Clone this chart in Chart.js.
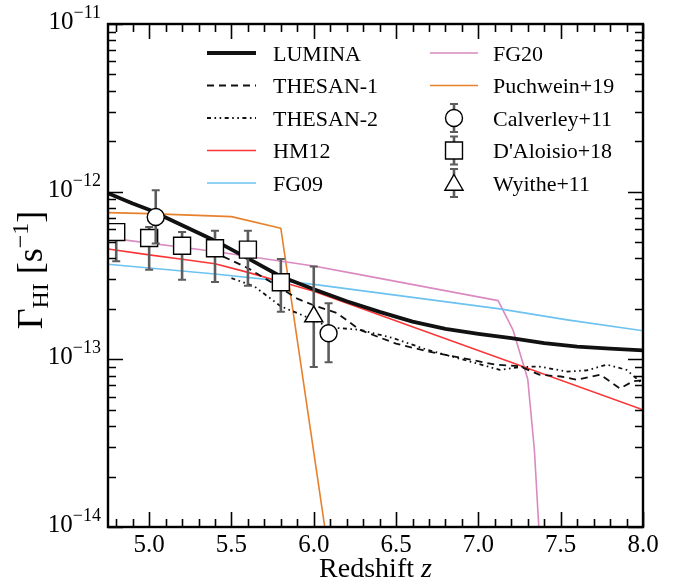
<!DOCTYPE html>
<html>
<head>
<meta charset="utf-8">
<script src="https://cdn.jsdelivr.net/npm/chart.js@4.4.1/dist/chart.umd.min.js"></script>
<style>
  html, body { margin: 0; padding: 0; background: #ffffff; }
  #c { display: block; }
</style>
</head>
<body>
<canvas id="c" width="676" height="581"></canvas>
<script>
// ---- photoionisation rate Gamma_HI [s^-1] versus redshift ----

// LUMINA
const luminaZ = [4.75, 4.9, 5.0, 5.2, 5.4, 5.6, 5.8, 6.0, 6.2, 6.4, 6.6, 6.8, 7.0, 7.2, 7.4, 7.6, 7.8, 8.0];
const luminaGamma = [9.8e-13, 8.5e-13, 7.8e-13, 6.3e-13, 5.1e-13, 4.0e-13, 3.12e-13, 2.62e-13, 2.22e-13, 1.92e-13, 1.68e-13, 1.52e-13, 1.42e-13, 1.34e-13, 1.25e-13, 1.19e-13, 1.16e-13, 1.13e-13];

// THESAN-1
const thesan1Z = [5.45, 5.6, 5.75, 5.9, 6.0, 6.14, 6.28, 6.4, 6.5, 6.7, 6.9, 7.1, 7.25, 7.37, 7.5, 7.6, 7.74, 7.86, 7.94, 8.0];
const thesan1Gamma = [4.1e-13, 3.5e-13, 2.85e-13, 2.3e-13, 2.1e-13, 1.89e-13, 1.5e-13, 1.35e-13, 1.24e-13, 1.11e-13, 1.02e-13, 9.3e-14, 9.1e-14, 8.1e-14, 7.9e-14, 7.55e-14, 8.1e-14, 6.7e-14, 7.4e-14, 7.5e-14];

// THESAN-2
const thesan2Z = [5.5, 5.64, 5.8, 5.95, 6.1, 6.28, 6.48, 6.69, 6.95, 7.13, 7.25, 7.37, 7.54, 7.66, 7.78, 7.9, 7.98, 8.0];
const thesan2Gamma = [3.05e-13, 2.72e-13, 2.07e-13, 1.8e-13, 1.55e-13, 1.5e-13, 1.34e-13, 1.14e-13, 9.7e-14, 8.65e-14, 9.0e-14, 9.06e-14, 8.45e-14, 8.6e-14, 9.3e-14, 8.65e-14, 7.4e-14, 7.6e-14];

// UV background models
const hm12Z = [4.75, 5.0, 5.2, 5.4, 5.6, 5.8, 6.0, 8.0];
const hm12Gamma = [4.55e-13, 4.2e-13, 3.95e-13, 3.72e-13, 3.3e-13, 2.9e-13, 2.55e-13, 5.0e-14];

const fg09Z = [4.75, 5.4, 6.0, 7.13, 7.54, 8.0];
const fg09Gamma = [3.69e-13, 3.23e-13, 2.8e-13, 2.0e-13, 1.72e-13, 1.48e-13];

const fg20Z = [4.75, 5.4, 6.0, 6.28, 7.12, 7.21, 7.3, 7.34, 7.38];
const fg20Gamma = [5.3e-13, 4.4e-13, 3.6e-13, 3.2e-13, 2.24e-13, 1.5e-13, 7.6e-14, 2.9e-14, 6e-15];

const puchweinZ = [4.75, 5.0, 5.5, 5.8, 6.1];
const puchweinGamma = [7.5e-13, 7.4e-13, 7.1e-13, 6.05e-13, 6e-15];

// Observational constraints (value, upper, lower)
const calverleyZ = [5.04, 6.09];
const calverleyGamma = [7.06e-13, 1.43e-13];
const calverleyHi = [1.02e-12, 2.16e-13];
const calverleyLo = [4.9e-13, 9.6e-14];

const daloisioZ = [4.8, 5.0, 5.2, 5.4, 5.6, 5.8];
const daloisioGamma = [5.74e-13, 5.29e-13, 4.76e-13, 4.6e-13, 4.51e-13, 2.88e-13];
const daloisioHi = [6.3e-13, 6.15e-13, 5.74e-13, 5.85e-13, 5.85e-13, 3.96e-13];
const daloisioLo = [3.84e-13, 3.42e-13, 2.98e-13, 2.89e-13, 2.75e-13, 1.92e-13];

const wyitheZ = [6.0];
const wyitheGamma = [1.8e-13];
const wyitheHi = [3.58e-13];
const wyitheLo = [9.0e-14];

// Axis ticks
const xMajorTicks = [5.0, 5.5, 6.0, 6.5, 7.0, 7.5, 8.0];
const xTickLabels = ['5.0', '5.5', '6.0', '6.5', '7.0', '7.5', '8.0'];
const xMinorTicks = [4.8, 4.9, 5.1, 5.2, 5.3, 5.4, 5.6, 5.7, 5.8, 5.9, 6.1, 6.2, 6.3, 6.4,
                     6.6, 6.7, 6.8, 6.9, 7.1, 7.2, 7.3, 7.4, 7.6, 7.7, 7.8, 7.9];
const yDecadeExponents = [-14, -13, -12, -11];
const yMinorMantissas = [2, 3, 4, 5, 6, 7, 8, 9];

const serif = '"Liberation Serif", "Times New Roman", Times, serif';

function pairs(xs, ys) { return xs.map((x, i) => ({ x: x, y: ys[i] })); }

function lineSet(label, xs, ys, color, width, dash) {
  return {
    label: label,
    data: pairs(xs, ys),
    borderColor: color,
    backgroundColor: color,
    borderWidth: width,
    borderDash: dash || [],
    borderJoinStyle: 'round',
    pointRadius: 0,
    pointHoverRadius: 0,
    fill: false,
    tension: 0,
    order: 1
  };
}

function obsSet(label, xs, ys, hi, lo, style, radius) {
  return {
    label: label,
    data: pairs(xs, ys),
    errHi: hi,
    errLo: lo,
    showLine: false,
    pointStyle: style,
    pointRadius: radius,
    pointHoverRadius: radius,
    pointBackgroundColor: '#ffffff',
    pointBorderColor: '#000000',
    pointBorderWidth: 1.4,
    borderColor: '#000000',
    backgroundColor: '#ffffff',
    clip: false,
    order: 0
  };
}

const datasets = [
  lineSet('LUMINA', luminaZ, luminaGamma, '#111111', 3.8),
  lineSet('THESAN-1', thesan1Z, thesan1Gamma, '#111111', 1.8, [7, 5]),
  lineSet('THESAN-2', thesan2Z, thesan2Gamma, '#111111', 1.8, [4, 3.5, 1.6, 3.5, 1.6, 3.5]),
  lineSet('HM12', hm12Z, hm12Gamma, '#fb3535', 1.6),
  lineSet('FG09', fg09Z, fg09Gamma, '#6cc2f0', 1.6),
  lineSet('FG20', fg20Z, fg20Gamma, '#d98ac0', 1.6),
  lineSet('Puchwein+19', puchweinZ, puchweinGamma, '#e8802c', 1.6),
  obsSet('Calverley+11', calverleyZ, calverleyGamma, calverleyHi, calverleyLo, 'circle', 8.5),
  obsSet("D'Aloisio+18", daloisioZ, daloisioGamma, daloisioHi, daloisioLo, 'rect', 12),
  obsSet('Wyithe+11', wyitheZ, wyitheGamma, wyitheHi, wyitheLo, 'triangle', 10.5)
];

const errColor = '#5c5c5c';

function drawErrorBar(ctx, x, yTop, yBot) {
  ctx.save();
  ctx.strokeStyle = errColor;
  ctx.lineWidth = 2.6;
  ctx.beginPath();
  ctx.moveTo(x, yTop);
  ctx.lineTo(x, yBot);
  ctx.stroke();
  ctx.lineWidth = 2;
  ctx.beginPath();
  ctx.moveTo(x - 4, yTop); ctx.lineTo(x + 4, yTop);
  ctx.moveTo(x - 4, yBot); ctx.lineTo(x + 4, yBot);
  ctx.stroke();
  ctx.restore();
}

function drawMarker(ctx, style, r, x, y) {
  ctx.save();
  ctx.fillStyle = '#ffffff';
  ctx.strokeStyle = '#000000';
  ctx.lineWidth = 1.4;
  ctx.beginPath();
  if (style === 'circle') {
    ctx.arc(x, y, r, 0, Math.PI * 2);
  } else if (style === 'rect') {
    const s = r * Math.SQRT1_2;
    ctx.rect(x - s, y - s, 2 * s, 2 * s);
  } else {
    ctx.moveTo(x, y - r);
    ctx.lineTo(x + r * Math.sin(Math.PI / 3), y + r / 2);
    ctx.lineTo(x - r * Math.sin(Math.PI / 3), y + r / 2);
    ctx.closePath();
  }
  ctx.fill();
  ctx.stroke();
  ctx.restore();
}

// error bars are drawn just before the markers of the same dataset
const errorBarPlugin = {
  id: 'errorBars',
  beforeDatasetDraw(chart, args) {
    const ds = chart.data.datasets[args.index];
    if (!ds.errHi) return;
    const xs = chart.scales.x, ys = chart.scales.y;
    const ctx = chart.ctx;
    ds.data.forEach((p, i) => {
      const px = xs.getPixelForValue(p.x);
      drawErrorBar(ctx, px, ys.getPixelForValue(ds.errHi[i]), ys.getPixelForValue(ds.errLo[i]));
    });
  }
};

// two-column legend inside the plotting area
const legendColumns = [
  { lineX0: 207, lineX1: 256, textX: 273, items: [0, 1, 2, 3, 4] },
  { lineX0: 430, lineX1: 478, textX: 493, items: [5, 6, 7, 8, 9] }
];
const legendRowY = [53, 85.5, 118, 150.5, 183];

const legendPlugin = {
  id: 'twoColumnLegend',
  afterDatasetsDraw(chart) {
    const ctx = chart.ctx;
    ctx.save();
    legendColumns.forEach(col => {
      col.items.forEach((idx, row) => {
        const ds = chart.data.datasets[idx];
        const y = legendRowY[row];
        if (ds.errHi) {
          const cx = (col.lineX0 + col.lineX1) / 2;
          drawErrorBar(ctx, cx, y - 14, y + 14);
          drawMarker(ctx, ds.pointStyle, ds.pointRadius, cx, ds.pointStyle === 'triangle' ? y + 2 : y);
        } else {
          ctx.save();
          ctx.strokeStyle = ds.borderColor;
          ctx.lineWidth = ds.borderWidth;
          ctx.setLineDash(ds.borderDash);
          ctx.beginPath();
          ctx.moveTo(col.lineX0, y);
          ctx.lineTo(col.lineX1, y);
          ctx.stroke();
          ctx.restore();
        }
        ctx.fillStyle = '#000000';
        ctx.font = '22px ' + serif;
        ctx.textAlign = 'left';
        ctx.textBaseline = 'alphabetic';
        ctx.fillText(ds.label, col.textX, y + 7.5);
      });
    });
    ctx.restore();
  }
};

// frame, inward ticks on all four sides, tick labels and axis titles
const axesPlugin = {
  id: 'frameAndTicks',
  afterDraw(chart) {
    const ctx = chart.ctx;
    const a = chart.chartArea;
    const xs = chart.scales.x, ys = chart.scales.y;
    ctx.save();
    ctx.strokeStyle = '#000000';

    // ticks
    ctx.lineWidth = 1.6;
    ctx.beginPath();
    xs.ticks.forEach(t => {
      const px = Math.round(xs.getPixelForValue(t.value)) + 0.5;
      const len = t.major ? 15 : 8;
      ctx.moveTo(px, a.bottom); ctx.lineTo(px, a.bottom - len);
      ctx.moveTo(px, a.top); ctx.lineTo(px, a.top + len);
    });
    ys.ticks.forEach(t => {
      const py = Math.round(ys.getPixelForValue(t.value)) + 0.5;
      const len = t.major ? 15 : 8;
      ctx.moveTo(a.left, py); ctx.lineTo(a.left + len, py);
      ctx.moveTo(a.right, py); ctx.lineTo(a.right - len, py);
    });
    ctx.stroke();

    // frame
    ctx.lineWidth = 2.4;
    ctx.strokeRect(a.left, a.top, a.right - a.left, a.bottom - a.top);

    // x tick labels
    ctx.fillStyle = '#000000';
    ctx.font = '25px ' + serif;
    ctx.textAlign = 'center';
    ctx.textBaseline = 'alphabetic';
    xMajorTicks.forEach((v, i) => {
      ctx.fillText(xTickLabels[i], xs.getPixelForValue(v), a.bottom + 25);
    });

    // y tick labels: 10^n
    yDecadeExponents.forEach(e => {
      const py = ys.getPixelForValue(Math.pow(10, e));
      const sup = '\u2212' + Math.abs(e);
      ctx.font = '18px ' + serif;
      const wSup = ctx.measureText(sup).width;
      ctx.font = '25px ' + serif;
      const wMain = ctx.measureText('10').width;
      const right = a.left - 7;
      ctx.textAlign = 'left';
      ctx.fillText('10', right - wSup - wMain, py + 5);
      ctx.font = '18px ' + serif;
      ctx.fillText(sup, right - wSup, py - 6);
    });

    // x axis title: Redshift z
    ctx.font = '28px ' + serif;
    const t1 = 'Redshift ';
    const w1 = ctx.measureText(t1).width;
    ctx.font = 'italic 28px ' + serif;
    const w2 = ctx.measureText('z').width;
    const cx = (a.left + a.right) / 2;
    const x0 = cx - (w1 + w2) / 2;
    ctx.textAlign = 'left';
    ctx.font = '28px ' + serif;
    ctx.fillText(t1, x0, 577);
    ctx.font = 'italic 28px ' + serif;
    ctx.fillText('z', x0 + w1, 577);

    // y axis title: Gamma_HI [s^-1]
    const parts = [
      { t: '\u0393', f: '36px ', dy: 0 },
      { t: 'HI', f: '24px ', dy: 6 },
      { t: ' [s', f: '36px ', dy: 0 },
      { t: '\u22121', f: '24px ', dy: -14 },
      { t: ']', f: '36px ', dy: 0 }
    ];
    let total = 0;
    parts.forEach(p => { ctx.font = p.f + serif; p.w = ctx.measureText(p.t).width; total += p.w; });
    ctx.translate(42, 270);
    ctx.rotate(-Math.PI / 2);
    let px = -total / 2;
    parts.forEach(p => {
      ctx.font = p.f + serif;
      ctx.fillText(p.t, px, p.dy);
      px += p.w;
    });
    ctx.restore();
  }
};

new Chart(document.getElementById('c'), {
  type: 'line',
  data: { datasets: datasets },
  options: {
    responsive: false,
    animation: false,
    devicePixelRatio: 1,
    layout: { padding: { top: 24, right: 33, left: 0, bottom: 0 } },
    plugins: {
      legend: { display: false },
      tooltip: { enabled: false },
      title: { display: false }
    },
    scales: {
      x: {
        type: 'linear',
        min: 4.75,
        max: 8.0,
        grid: { display: false, drawTicks: false },
        border: { display: false },
        ticks: { display: false },
        afterBuildTicks(scale) {
          scale.ticks = xMajorTicks.map(v => ({ value: v, major: true }))
            .concat(xMinorTicks.map(v => ({ value: v, major: false })));
        },
        afterFit(scale) { scale.height = 54; }
      },
      y: {
        type: 'logarithmic',
        min: 1e-14,
        max: 1e-11,
        grid: { display: false, drawTicks: false },
        border: { display: false },
        ticks: { display: false },
        afterBuildTicks(scale) {
          const list = [];
          yDecadeExponents.forEach(e => {
            list.push({ value: Math.pow(10, e), major: true });
            if (e < -11) {
              yMinorMantissas.forEach(m => list.push({ value: m * Math.pow(10, e), major: false }));
            }
          });
          scale.ticks = list;
        },
        afterFit(scale) { scale.width = 108; }
      }
    }
  },
  plugins: [errorBarPlugin, legendPlugin, axesPlugin]
});
</script>
</body>
</html>
